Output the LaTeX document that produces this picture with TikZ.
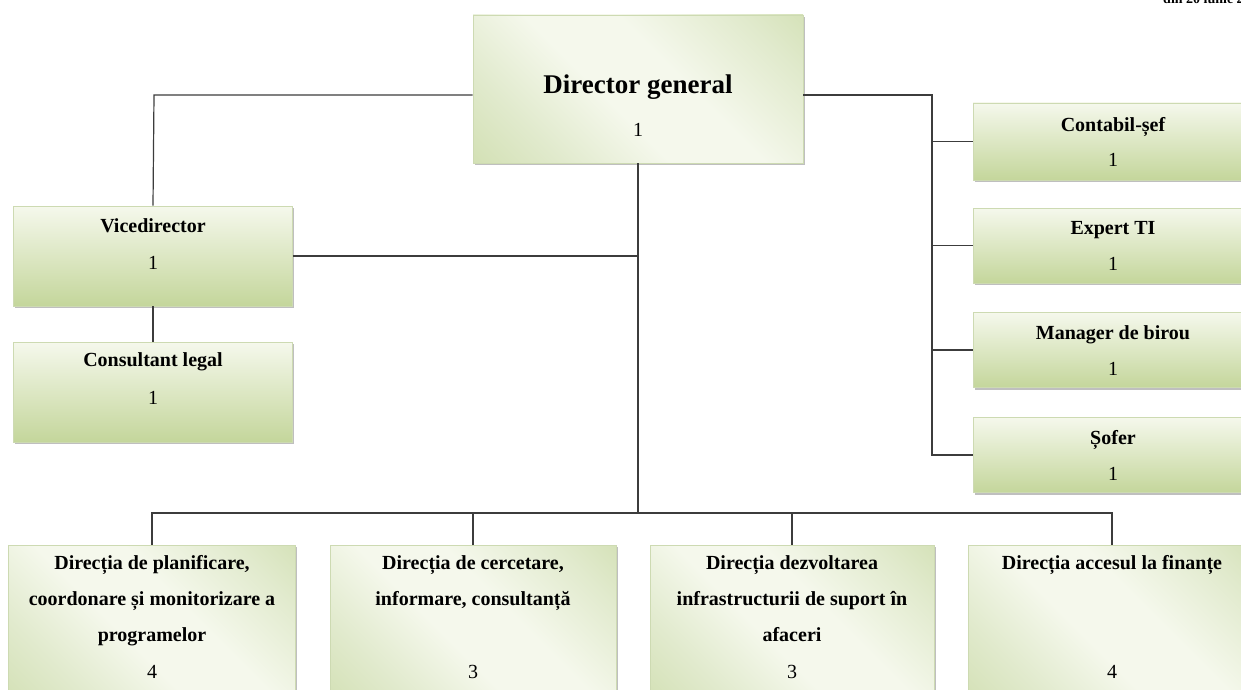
\documentclass[tikz,border=0pt]{standalone}
\usepackage{fontspec}
\setmainfont{Liberation Serif}
\usetikzlibrary{shadows}
\definecolor{boxlight}{RGB}{245,248,236}
\definecolor{boxmid}{RGB}{225,234,205}
\definecolor{boxdark}{RGB}{196,214,155}
\definecolor{boxedge}{RGB}{205,218,178}
\definecolor{linec}{RGB}{60,60,60}
\pgfdeclarehorizontalshading{moss}{100bp}{color(0bp)=(boxdark); color(28bp)=(boxmid); color(44bp)=(boxlight); color(58bp)=(boxlight); color(76bp)=(boxmid); color(100bp)=(boxdark)}
\tikzset{
  orgbox/.style={draw=boxedge, line width=0.6pt, inner sep=0pt,
    top color=boxlight, bottom color=boxdark,
    drop shadow={shadow xshift=1.8pt, shadow yshift=-2.2pt, fill=black!45, opacity=0.55}},
  mossbox/.style={draw=boxedge, line width=0.6pt, inner sep=0pt,
    shading=moss, shading angle=45,
    drop shadow={shadow xshift=1.8pt, shadow yshift=-2.2pt, fill=black!45, opacity=0.55}},
  ttl/.style={font=\fontsize{20}{24}\selectfont\bfseries, inner sep=0pt, align=center},
  ttlb/.style={font=\fontsize{20}{36}\selectfont\bfseries, inner sep=0pt, align=center, anchor=north},
  num/.style={font=\fontsize{20}{24}\selectfont, inner sep=0pt},
  conn/.style={draw=linec, line width=1.2pt},
}
\begin{document}
\begin{tikzpicture}[x=1pt, y=-1pt]
\useasboundingbox (0,0) rectangle (1241,690);
\fill[white] (0,0) rectangle (1241,690);
% header fragment (cut off at top, as in the reference)
\node[anchor=base west, inner sep=0pt, font=\fontsize{14}{16}\selectfont\bfseries] (hdr) at (1163,3.5) {din 20 iunie 20};
% boxes
\node[mossbox, minimum width=330pt, minimum height=148pt] (dg) at (638,89) {};
\node[orgbox, minimum width=279pt, minimum height=100pt] (vd) at (153,256) {};
\node[orgbox, minimum width=279pt, minimum height=100pt] (cl) at (153,392) {};
\node[orgbox, minimum width=282pt, minimum height=77pt] (cs) at (1114,141.5) {};
\node[orgbox, minimum width=282pt, minimum height=75pt] (ex) at (1114,245.5) {};
\node[orgbox, minimum width=282pt, minimum height=75pt] (mb) at (1114,350) {};
\node[orgbox, minimum width=282pt, minimum height=75pt] (sf) at (1114,455) {};
\node[mossbox, minimum width=287pt, minimum height=160pt] (b1) at (152,625) {};
\node[mossbox, minimum width=286pt, minimum height=160pt] (b2) at (473,625) {};
\node[mossbox, minimum width=284pt, minimum height=160pt] (b3) at (792,625) {};
\node[mossbox, minimum width=288pt, minimum height=160pt] (b4) at (1112,625) {};
% texts
\node[font=\fontsize{27}{30}\selectfont\bfseries, inner sep=0pt] (dgT) at (638,87) {Director general};
\node[num] (dgN) at (638,130) {1};
\node[ttl] (vdT) at (153,226) {Vicedirector};
\node[num] (vdN) at (153,263) {1};
\node[ttl] (clT) at (153,362) {Consultant legal};
\node[num] (clN) at (153,398) {1};
\node[ttl] (csT) at (1113,127) {Contabil-șef};
\node[num] (csN) at (1113,160) {1};
\node[ttl] (exT) at (1113,230) {Expert TI};
\node[num] (exN) at (1113,264) {1};
\node[ttl] (mbT) at (1113,335) {Manager de birou};
\node[num] (mbN) at (1113,369) {1};
\node[ttl] (sfT) at (1113,440) {Șofer};
\node[num] (sfN) at (1113,474) {1};
\node[ttlb] (b1T) at (152,555) {Direcția de planificare,\\coordonare și monitorizare a\\programelor};
\node[num] (b1N) at (152,672) {4};
\node[ttlb] (b2T) at (473,555) {Direcția de cercetare,\\informare, consultanță};
\node[num] (b2N) at (473,672) {3};
\node[ttlb] (b3T) at (792,555) {Direcția dezvoltarea\\infrastructurii de suport în\\afaceri};
\node[num] (b3N) at (792,672) {3};
\node[ttlb] (b4T) at (1112,555) {Direcția accesul la finanțe};
\node[num] (b4N) at (1112,672) {4};
% junction coordinates
\coordinate (jl) at (154,95);
\coordinate (jr) at (932,95);
\coordinate (jrb) at (932,455);
\coordinate (bus) at (638,513);
% connectors
\draw[conn] (dg.west |- jl) -- (jl) -- (vd.north);
\draw[conn] (dg.east |- jr) -- (jr) -- (jrb) -- (sf.west);
\draw[conn] (jr |- cs.west) -- (cs.west);
\draw[conn] (jr |- ex.west) -- (ex.west);
\draw[conn] (jr |- mb.west) -- (mb.west);
\draw[conn] (dg.south) -- (bus);
\draw[conn] (vd.east) -- (vd.east -| dg.south);
\draw[conn] (vd.south) -- (cl.north);
\draw[conn] (b1.north) -- (b1.north |- bus) -- (b4.north |- bus) -- (b4.north);
\draw[conn] (b2.north) -- (b2.north |- bus);
\draw[conn] (b3.north) -- (b3.north |- bus);
\end{tikzpicture}
\end{document}
